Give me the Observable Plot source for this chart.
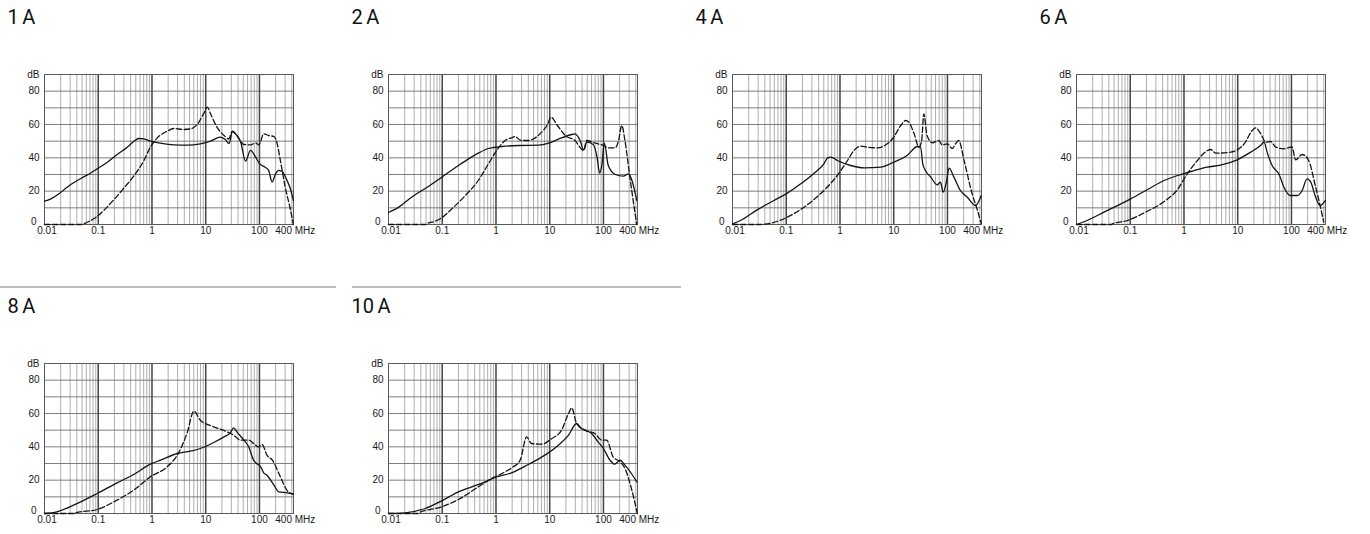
<!DOCTYPE html>
<html><head><meta charset="utf-8">
<script src="https://cdn.jsdelivr.net/npm/d3@7"></script>
<script src="https://cdn.jsdelivr.net/npm/@observablehq/plot@0.6"></script>
<style>
body{margin:0;width:1370px;height:534px;overflow:hidden;background:#fff;}
#root{position:relative;width:1370px;height:534px;}
.title{position:absolute;font-family:Roboto,"Liberation Sans",sans-serif;font-size:20px;line-height:20px;color:#111;word-spacing:-1.5px;white-space:nowrap;}
.sep{position:absolute;height:1.5px;background:#bcbcbc;}
.chart{position:absolute;}
</style></head><body><div id="root"></div>
<script>
// ---- data: [frequency MHz, attenuation dB] ----
const panelTitles = ["1 A", "2 A", "4 A", "6 A", "8 A", "10 A"];

const a1Solid = [[0.01,14],[0.0129,15.2],[0.0186,18.4],[0.0263,22.4],[0.0407,26.4],[0.0617,29.6],[0.0955,33.4],[0.148,37.4],[0.224,42],[0.347,46.4],[0.457,49.8],[0.57,51.6],[0.708,51.4],[0.933,50],[1.45,48.8],[2.57,47.8],[4.47,47.6],[7.94,48.4],[12.3,50],[18.6,52.4],[23.4,50.8],[27.2,48.5],[31.5,56],[38,53.4],[44.7,49.5],[55,38],[68,44.5],[85,40.4],[100,36.5],[125,34.5],[148,32.5],[172,25.5],[200,30.5],[228,32.5],[270,31.5],[330,26],[380,21],[427,14.4]];
const a1Dashed = [[0.01,0],[0.05,0],[0.0537,0.4],[0.0724,2.4],[0.0955,4.8],[0.126,8.4],[0.195,14.8],[0.302,22],[0.457,29],[0.708,38.4],[0.933,46.4],[1.26,52],[1.91,56],[2.57,57.6],[3.89,57],[5.25,57.4],[6.92,60],[9.12,66.4],[10.7,70.4],[12.3,66.4],[16.2,58.4],[21.9,53.4],[26.9,51.4],[31,55.8],[38,53.4],[51.3,48],[67.6,47.8],[85,48.8],[97.7,47.8],[120,54.4],[148,53.4],[186,52.8],[214,48.4],[245,38.4],[302,22.4],[380,8.4],[427,0]];

const a2Solid = [[0.01,7.2],[0.0155,10.4],[0.0269,16.4],[0.055,22.8],[0.0977,28.4],[0.174,34],[0.309,39.4],[0.468,42.8],[0.724,45.6],[1.29,46.8],[2.63,47.4],[6.17,47.6],[9.55,48.8],[14.5,51.2],[25.7,54],[29.5,54.4],[37.2,50],[42.7,44.8],[49,49.4],[64.6,48],[75.9,40.4],[85,30.8],[93,35.4],[104,48.8],[123,35.4],[166,30],[234,29],[295,30.4],[339,26.4],[417,14.4]];
const a2Dashed = [[0.01,0],[0.05,0],[0.0513,0.4],[0.0741,2],[0.0977,4],[0.151,9.4],[0.269,17.4],[0.468,26.4],[0.724,36.4],[1.05,44.8],[1.48,50.4],[1.95,52],[2.29,52.8],[2.82,50.6],[3.98,50.4],[5.37,52],[7.08,55.4],[8.91,59.4],[10.7,64.4],[13.5,60],[19.5,53.4],[29.5,50.4],[42.7,44.4],[49,50.4],[70.8,48.8],[100,47.4],[123,46],[166,46],[191,50.4],[219,59.4],[251,50.4],[316,26.4],[389,6.4],[417,0]];

const a4Solid = [[0.01,0.4],[0.0141,2.4],[0.0288,8.8],[0.0589,14.4],[0.105,18.8],[0.186,24.4],[0.331,30.8],[0.501,36.4],[0.589,40],[0.676,40.4],[0.891,38.4],[1.58,35.4],[2.82,34],[5.75,34.4],[10,37.4],[17.8,41.4],[27.5,46.8],[31.6,46.4],[34.7,36.4],[38.9,32.4],[49,28.4],[64.6,23.8],[74.1,25.4],[83.2,19.4],[95.5,25.4],[107,33.8],[132,28.4],[174,20.4],[234,16.4],[331,11.4],[427,17.4]];
const a4Dashed = [[0.01,0],[0.0288,0],[0.0513,0.8],[0.105,4.4],[0.214,10.4],[0.501,20.4],[0.891,29.4],[1.38,38.4],[1.82,44.4],[2.45,47],[3.24,46.4],[5.01,46],[7.59,48.4],[10,52.4],[13.5,59.4],[16.6,62.4],[19.1,61.4],[24,54.4],[29.5,46.4],[33.1,50.4],[36.3,66.4],[41.7,53.4],[52.5,49],[69.2,50.4],[79.4,47.8],[100,48.4],[123,45.6],[141,48.4],[162,50.4],[204,38.4],[288,18.4],[355,9.4],[427,0.4]];

const a6Solid = [[0.01,0],[0.0158,2.4],[0.0324,7.4],[0.102,15.4],[0.209,21],[0.427,26.4],[0.759,29.4],[1.35,31.8],[2.69,34.4],[4.79,35.6],[9.77,38.8],[17.4,43.4],[26.9,47.5],[30.9,49.5],[35.5,43],[43.7,35.4],[58.9,30],[72.4,22.4],[95.5,17.4],[129,17.4],[158,20.4],[195,27.4],[229,25.4],[282,16.4],[339,11.4],[427,14.4]];
const a6Dashed = [[0.01,0],[0.045,0],[0.0468,0.4],[0.0891,2.4],[0.182,7],[0.427,13.8],[0.759,21],[1.15,30.4],[1.78,38.4],[2.34,42.8],[3.16,45],[3.89,42.8],[7.41,43.4],[13.2,48.4],[18.6,56.4],[21.4,58],[26.9,54.4],[33.1,49.4],[40.7,49.8],[51.3,46.4],[72.4,45.4],[102,46.6],[120,38.8],[158,42],[209,38.4],[282,22.4],[347,10.4],[398,1.4]];

const a8Solid = [[0.01,0],[0.017,1],[0.0347,5],[0.0955,12],[0.224,18.4],[0.457,23.4],[0.933,29.6],[1.45,32],[2.95,36],[5.13,37.4],[7.94,39],[14.1,42.6],[21.9,46],[28.8,48.4],[33.1,51.4],[38,49],[51.3,44],[63.1,40],[77.6,32],[105,28],[120,24.4],[138,23],[186,17],[229,13],[331,12.4],[427,11.6]];
const a8Dashed = [[0.01,0],[0.037,0],[0.0372,0.4],[0.0955,2.4],[0.224,8],[0.457,14],[0.933,22],[1.91,28],[2.95,35],[4.47,48],[6.03,61.4],[7.94,56],[14.1,52],[25.1,49],[33.1,47],[44.7,44],[63.1,44],[77.6,42],[97.7,40],[112,41.4],[138,35],[174,32],[245,22],[331,13.6],[427,11.6]];

const a10Solid = [[0.01,0],[0.0204,0.4],[0.0479,3],[0.0977,7.6],[0.2,13],[0.355,16],[0.631,19],[0.955,21.6],[1.95,24.4],[3.98,29.4],[8.13,35],[14.5,41],[22.4,47],[31.6,54],[38.9,51],[60.3,48],[79.4,43],[100,39],[132,32],[162,29.6],[204,32],[251,29],[331,24],[417,19]];
const a10Dashed = [[0.01,0],[0.035,0],[0.0363,0.4],[0.0977,4],[0.2,8.4],[0.468,16],[0.832,21],[1.29,24],[1.95,27.4],[2.82,32],[3.72,46],[4.57,42],[7.08,41.6],[11,45],[16.6,50],[22.4,60],[25.7,63.4],[31.6,54],[45.7,50],[69.2,48],[93.3,44],[115,44],[151,34],[204,31],[251,27],[331,15],[427,0]];

const xTickValues = [0.01, 0.1, 1, 10, 100, 400];
const xTickLabels = ["0.01", "0.1", "1", "10", "100", "400 MHz"];
const yTickValues = [0, 20, 40, 60, 80, 90];
const yTickLabels = ["0", "20", "40", "60", "80", "dB"];
const decadeLines = [0.1, 1, 10, 100];
const minorLines = [0.02,0.03,0.04,0.05,0.06,0.07,0.08,0.09,0.2,0.3,0.4,0.5,0.6,0.7,0.8,0.9,2,3,4,5,6,7,8,9,20,30,40,50,60,70,80,90,200,300,400];
const gridY = [10, 20, 30, 40, 50, 60, 70, 80];

const panels = [
  {title: panelTitles[0], solid: a1Solid, dashed: a1Dashed},
  {title: panelTitles[1], solid: a2Solid, dashed: a2Dashed},
  {title: panelTitles[2], solid: a4Solid, dashed: a4Dashed},
  {title: panelTitles[3], solid: a6Solid, dashed: a6Dashed},
  {title: panelTitles[4], solid: a8Solid, dashed: a8Dashed},
  {title: panelTitles[5], solid: a10Solid, dashed: a10Dashed}
];

const xTicks = xTickValues.map((v, i) => ({v, label: xTickLabels[i]}));
const yTicks = yTickValues.map((v, i) => ({v, label: yTickLabels[i]}));
const xFirst = xTicks.filter(d => d.v === 0.01);
const xLast = xTicks.filter(d => d.v === 400);
const xMid = xTicks.filter(d => d.v !== 0.01 && d.v !== 400);
const yZero = yTicks.filter(d => d.v === 0);
const yRest = yTicks.filter(d => d.v !== 0);
const font = "'Liberation Sans', Arial, sans-serif";
const xText = {x: "v", text: "label", frameAnchor: "bottom", lineAnchor: "top", dy: 2.5, fill: "#1a1a1a", fontSize: 10, fontFamily: font};
const yText = {y: "v", text: "label", frameAnchor: "left", textAnchor: "end", fill: "#1a1a1a", fontSize: 10, fontFamily: font};

function chart(p) {
  return Plot.plot({
    width: 318, height: 180,
    marginLeft: 44, marginRight: 25, marginTop: 10, marginBottom: 20,
    x: {type: "log", domain: [0.01, 430], label: null, axis: null},
    y: {domain: [0, 90], label: null, axis: null},
    style: {fontFamily: font, fontSize: "10px", color: "#222", background: "transparent", overflow: "visible"},
    marks: [
      Plot.ruleX(minorLines, {stroke: "#a0a0a0", strokeWidth: 0.85}),
      Plot.ruleY(gridY, {stroke: "#707070", strokeWidth: 0.9}),
      Plot.ruleX(decadeLines, {stroke: "#444", strokeWidth: 1.5}),
      Plot.frame({stroke: "#5a5a5a", strokeWidth: 1}),
      Plot.line(p.solid, {x: d => d[0], y: d => d[1], curve: "monotone-x", stroke: "#141414", strokeWidth: 1.3}),
      Plot.line(p.dashed, {x: d => d[0], y: d => d[1], curve: "monotone-x", stroke: "#141414", strokeWidth: 1.3, strokeDasharray: "5.5,2.5"}),
      Plot.text(xMid, xText),
      Plot.text(xFirst, {...xText, dx: 2.5}),
      Plot.text(xLast, {...xText, dx: 3.5}),
      Plot.text(yRest, {...yText, dx: -5}),
      Plot.text(yZero, {...yText, dx: -8, dy: -3})
    ]
  });
}

const root = document.getElementById("root");
const rowTop = [0, 289.3];
panels.forEach((p, i) => {
  const col = i % 4, row = Math.floor(i / 4);
  const left = 344 * col;
  const top = rowTop[row];
  const t = document.createElement("div");
  t.className = "title";
  t.textContent = p.title;
  t.style.left = (left + 7.5) + "px";
  t.style.top = (top + 7) + "px";
  root.appendChild(t);
  const svg = chart(p);
  const w = document.createElement("div");
  w.className = "chart";
  w.style.left = (left + 0.3) + "px";
  w.style.top = (top + 64) + "px";
  w.appendChild(svg);
  root.appendChild(w);
});
// separators above the second row
[[0, 336], [352, 681]].forEach(([a, b]) => {
  const s = document.createElement("div");
  s.className = "sep";
  s.style.left = a + "px";
  s.style.width = (b - a) + "px";
  s.style.top = "286px";
  root.appendChild(s);
});
</script></body></html>
